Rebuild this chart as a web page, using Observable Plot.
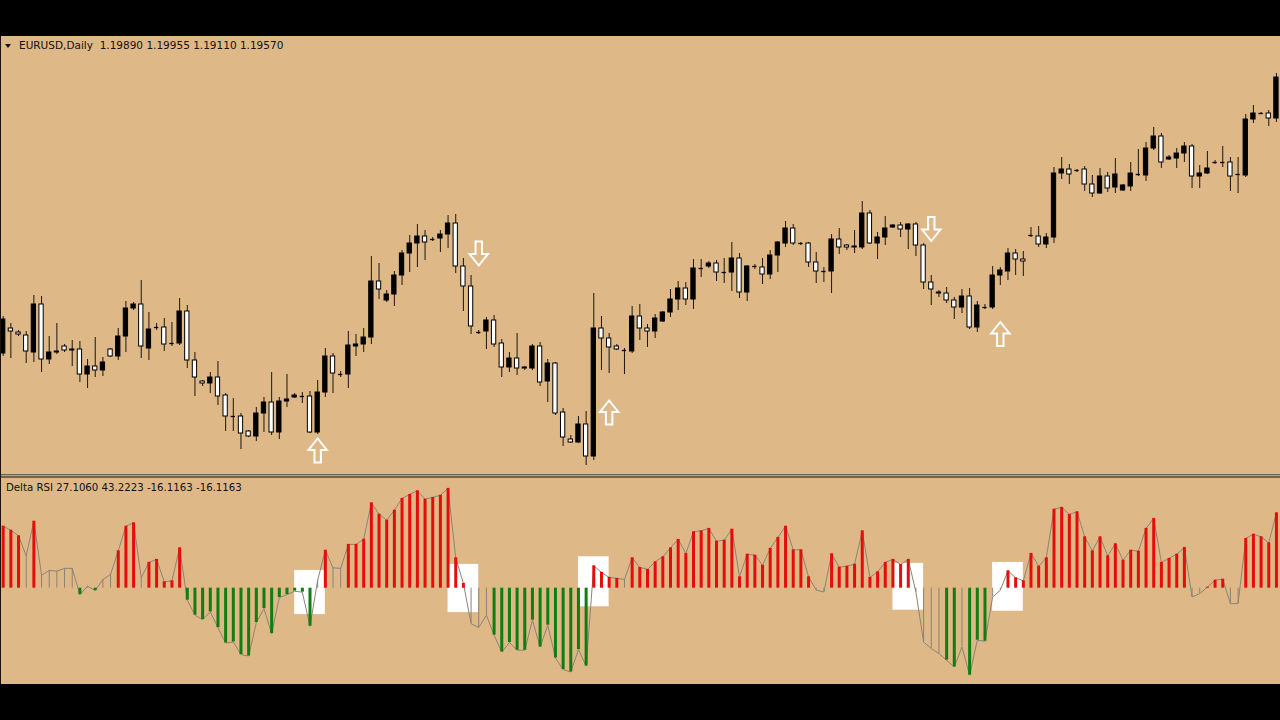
<!DOCTYPE html>
<html>
<head>
<meta charset="utf-8">
<script src="https://cdn.jsdelivr.net/npm/d3@7"></script>
<script src="https://cdn.jsdelivr.net/npm/@observablehq/plot@0.6"></script>
<style>
  html, body { margin: 0; padding: 0; background: #000; width: 1280px; height: 720px; overflow: hidden; }
  #chart { position: absolute; left: 0; top: 36px; width: 1280px; height: 648px; background: #DEB887; }
  #upper { position: absolute; left: 0; top: 0; }
  #lower { position: absolute; left: 0; top: 442px; }
  #sep { position: absolute; left: 0; top: 438px; width: 1280px; height: 4px;
         background: linear-gradient(#6d6452 0 1.3px, #b3a27f 1.3px 2.3px, #6d6452 2.3px 3.6px, #DEB887 3.6px); }
  #leftline { position: absolute; left: 0; top: 0; width: 1px; height: 648px; background: #1a140c; }
  .lbl { position: absolute; font-family: "DejaVu Sans", sans-serif; color: #111; white-space: pre; line-height: 12px; }
  #tri { position: absolute; left: 5px; top: 8px; width: 0; height: 0;
         border-left: 3px solid transparent; border-right: 3px solid transparent; border-top: 4.5px solid #111; }
  svg { display: block; }
</style>
</head>
<body>
<div id="chart">
  <div id="upper"></div>
  <div id="sep"></div>
  <div id="lower"></div>
  <div id="leftline"></div>
  <div id="tri"></div>
  <div class="lbl" id="title1" style="left:19px; top:3.4px; font-size:10.5px;"></div>
  <div class="lbl" id="title2" style="left:6px; top:445.8px; font-size:10.2px;"></div>
</div>
<script>
// ---------- Header texts ----------
const symbolTitle = "EURUSD,Daily  1.19890 1.19955 1.19110 1.19570";
const indicatorTitle = "Delta RSI 27.1060 43.2223 -16.1163 -16.1163";

// ---------- Daily candles ----------
const openPrice = [
1.1414,1.1464,1.1456,1.1450,1.1416,1.1512,1.1402,1.1416,1.1428,1.1420,
1.1422,1.1372,1.1388,1.1380,1.1422,1.1408,1.1448,1.1504,1.1512,1.1424,
1.1466,1.1466,1.1434,1.1434,1.1498,1.1400,1.1358,1.1354,1.1366,1.1330,
1.1288,1.1288,1.1258,1.1248,1.1294,1.1316,1.1256,1.1318,1.1326,1.1328,
1.1328,1.1256,1.1336,1.1408,1.1372,1.1372,1.1428,1.1432,1.1446,1.1558,
1.1520,1.1532,1.1570,1.1614,1.1634,1.1648,1.1642,1.1644,1.1652,1.1674,
1.1588,1.1548,1.1456,1.1458,1.1480,1.1434,1.1386,1.1404,1.1386,1.1384,
1.1428,1.1358,1.1394,1.1296,1.1242,1.1236,1.1272,1.1208,1.1464,1.1444,
1.1428,1.1420,1.1418,1.1488,1.1464,1.1458,1.1478,1.1496,1.1522,1.1544,
1.1522,1.1584,1.1588,1.1594,1.1576,1.1576,1.1604,1.1536,1.1588,1.1586,
1.1572,1.1610,1.1634,1.1664,1.1634,1.1634,1.1596,1.1578,1.1578,1.1642,
1.1630,1.1626,1.1626,1.1694,1.1634,1.1646,1.1666,1.1670,1.1662,1.1672,
1.1630,1.1556,1.1536,1.1534,1.1520,1.1506,1.1528,1.1466,1.1506,1.1506,
1.1570,1.1578,1.1614,1.1602,1.1650,1.1648,1.1632,1.1646,1.1774,1.1782,
1.1780,1.1782,1.1752,1.1734,1.1768,1.1746,1.1740,1.1748,1.1772,1.1770,
1.1824,1.1848,1.1802,1.1804,1.1814,1.1828,1.1768,1.1774,1.1796,1.1796,
1.1796,1.1772,1.1770,1.1882,1.1894,1.1894,1.1884];
const highPrice = [
1.1488,1.1474,1.1460,1.1458,1.1530,1.1528,1.1448,1.1474,1.1432,1.1440,
1.1438,1.1402,1.1446,1.1406,1.1424,1.1464,1.1518,1.1516,1.1560,1.1496,
1.1474,1.1484,1.1476,1.1524,1.1510,1.1416,1.1360,1.1376,1.1398,1.1334,
1.1324,1.1294,1.1260,1.1306,1.1326,1.1376,1.1326,1.1372,1.1334,1.1336,
1.1338,1.1360,1.1424,1.1414,1.1378,1.1458,1.1452,1.1464,1.1608,1.1594,
1.1540,1.1578,1.1620,1.1650,1.1672,1.1660,1.1646,1.1660,1.1690,1.1692,
1.1604,1.1570,1.1460,1.1486,1.1490,1.1442,1.1416,1.1454,1.1388,1.1432,
1.1436,1.1402,1.1396,1.1304,1.1250,1.1288,1.1298,1.1534,1.1488,1.1454,
1.1432,1.1424,1.1508,1.1512,1.1472,1.1492,1.1498,1.1542,1.1558,1.1556,
1.1602,1.1602,1.1598,1.1600,1.1604,1.1636,1.1614,1.1590,1.1592,1.1604,
1.1620,1.1638,1.1678,1.1672,1.1636,1.1636,1.1616,1.1586,1.1652,1.1664,
1.1632,1.1660,1.1718,1.1700,1.1656,1.1688,1.1672,1.1676,1.1674,1.1676,
1.1634,1.1570,1.1540,1.1546,1.1526,1.1542,1.1544,1.1518,1.1512,1.1588,
1.1586,1.1624,1.1622,1.1618,1.1666,1.1668,1.1654,1.1786,1.1806,1.1792,
1.1782,1.1788,1.1770,1.1784,1.1776,1.1804,1.1752,1.1796,1.1822,1.1836,
1.1866,1.1854,1.1810,1.1824,1.1836,1.1832,1.1790,1.1818,1.1800,1.1828,
1.1806,1.1806,1.1892,1.1910,1.1896,1.1900,1.1974];
const lowPrice = [
1.1408,1.1404,1.1448,1.1394,1.1396,1.1376,1.1392,1.1412,1.1416,1.1388,
1.1356,1.1344,1.1366,1.1368,1.1406,1.1400,1.1416,1.1500,1.1404,1.1400,
1.1460,1.1418,1.1428,1.1430,1.1384,1.1328,1.1348,1.1334,1.1310,1.1258,
1.1258,1.1222,1.1246,1.1238,1.1256,1.1250,1.1242,1.1306,1.1324,1.1314,
1.1254,1.1252,1.1326,1.1334,1.1366,1.1344,1.1408,1.1416,1.1432,1.1522,
1.1516,1.1508,1.1550,1.1576,1.1586,1.1600,1.1638,1.1616,1.1624,1.1574,
1.1498,1.1452,1.1452,1.1422,1.1426,1.1366,1.1376,1.1370,1.1380,1.1380,
1.1348,1.1316,1.1290,1.1228,1.1234,1.1234,1.1190,1.1200,1.1380,1.1374,
1.1420,1.1372,1.1414,1.1440,1.1426,1.1444,1.1476,1.1486,1.1500,1.1510,
1.1502,1.1566,1.1584,1.1558,1.1554,1.1538,1.1524,1.1518,1.1582,1.1552,
1.1562,1.1576,1.1626,1.1630,1.1630,1.1586,1.1554,1.1556,1.1534,1.1612,
1.1620,1.1614,1.1622,1.1632,1.1602,1.1630,1.1664,1.1646,1.1622,1.1608,
1.1542,1.1510,1.1526,1.1514,1.1482,1.1494,1.1462,1.1456,1.1502,1.1502,
1.1550,1.1560,1.1570,1.1568,1.1646,1.1626,1.1624,1.1634,1.1762,1.1752,
1.1776,1.1738,1.1726,1.1732,1.1736,1.1734,1.1738,1.1738,1.1768,1.1758,
1.1820,1.1784,1.1800,1.1784,1.1796,1.1744,1.1744,1.1772,1.1792,1.1786,
1.1738,1.1734,1.1766,1.1874,1.1892,1.1868,1.1876];
const closePrice = [
1.1482,1.1458,1.1452,1.1418,1.1512,1.1402,1.1416,1.1418,1.1420,1.1422,
1.1372,1.1388,1.1380,1.1396,1.1408,1.1448,1.1504,1.1512,1.1428,1.1462,
1.1466,1.1432,1.1434,1.1498,1.1400,1.1366,1.1354,1.1366,1.1328,1.1288,
1.1288,1.1254,1.1248,1.1294,1.1316,1.1256,1.1318,1.1322,1.1330,1.1328,
1.1256,1.1336,1.1408,1.1374,1.1372,1.1430,1.1432,1.1446,1.1558,1.1542,
1.1532,1.1570,1.1614,1.1634,1.1648,1.1636,1.1642,1.1652,1.1674,1.1588,
1.1548,1.1468,1.1456,1.1480,1.1432,1.1386,1.1404,1.1384,1.1384,1.1428,
1.1356,1.1394,1.1294,1.1246,1.1236,1.1272,1.1208,1.1464,1.1444,1.1426,
1.1422,1.1420,1.1488,1.1464,1.1458,1.1484,1.1496,1.1522,1.1544,1.1522,
1.1584,1.1584,1.1594,1.1576,1.1576,1.1604,1.1536,1.1588,1.1588,1.1572,
1.1610,1.1636,1.1664,1.1634,1.1634,1.1596,1.1578,1.1578,1.1642,1.1626,
1.1626,1.1628,1.1694,1.1634,1.1646,1.1664,1.1670,1.1662,1.1672,1.1630,
1.1556,1.1542,1.1534,1.1520,1.1506,1.1528,1.1466,1.1510,1.1506,1.1570,
1.1580,1.1614,1.1602,1.1598,1.1650,1.1632,1.1646,1.1774,1.1782,1.1772,
1.1780,1.1752,1.1734,1.1768,1.1744,1.1772,1.1750,1.1774,1.1772,1.1824,
1.1848,1.1796,1.1806,1.1814,1.1828,1.1768,1.1774,1.1784,1.1796,1.1796,
1.1768,1.1772,1.1882,1.1894,1.1894,1.1884,1.1966];

// ---------- Signal arrows on the price panel ----------
const upArrowBar = [41, 79, 130];
const upArrowPrice = [1.1246, 1.1322, 1.1479];
const downArrowBar = [62, 121];
const downArrowPrice = [1.1588, 1.1637];

// ---------- Delta RSI sub-window ----------
const deltaRsi = [
31.0,29.0,26.2,16.2,33.5,6.5,8.9,8.5,9.9,9.9,
-3.2,1.0,-1.2,4.4,6.9,18.7,31.0,32.7,5.2,12.9,
14.4,3.2,3.7,20.2,-6.0,-13.5,-15.7,-11.9,-19.7,-27.4,
-26.9,-33.2,-33.9,-17.2,-10.2,-22.7,-4.7,-3.2,-1.5,-2.0,
-19.0,4.0,19.0,10.2,9.9,21.9,21.9,24.5,42.7,37.0,
34.0,39.0,44.9,46.9,48.7,44.5,45.4,46.5,49.9,15.2,
2.4,-17.7,-19.7,-13.5,-23.5,-31.9,-27.2,-31.0,-31.0,-16.0,
-29.4,-18.5,-34.9,-40.7,-41.9,-30.7,-38.9,11.2,7.9,5.4,
4.9,4.4,15.2,10.4,9.4,13.2,15.7,20.2,24.4,17.4,
28.2,28.7,29.9,23.5,24.0,29.5,5.7,17.0,16.5,11.5,
19.9,25.4,31.0,19.2,19.2,5.7,-1.0,-1.9,17.2,10.5,
11.0,12.0,28.7,5.4,8.2,12.9,14.4,11.9,14.4,-2.0,
-26.9,-30.2,-32.7,-36.0,-39.4,-29.4,-43.5,-26.0,-26.5,-4.4,
-1.0,8.7,5.2,3.7,17.4,11.0,15.2,39.5,40.4,36.9,
38.2,25.7,18.7,25.7,16.2,22.2,14.0,19.0,18.5,29.9,
34.9,12.9,14.9,17.0,20.4,-4.4,-2.7,0.5,4.0,4.5,
-7.7,-7.7,24.9,27.0,25.7,22.7,37.7];
// r = rising (red), g = falling (green), n = neutral (grey)
const rsiState = (
"rrrnrnnnnn" + "gngnnrrrnr" + "rrrrgggggg" + "gggggggggg" + "gnrnnrrrrr" +
"rrrrrrrrrr" + "rnnngggggg" + "gggggggrrr" + "rnrrrrrrrr" + "rrrrrrrrrr" +
"rrrrrrnnrr" + "rrrrrrrrrn" + "nnnggnggg n".replace(" ", "") + "nrrrrrrrrr" + "rrrrrrrrrr" +
"rrrrrnnrrr" + "nnrrrrr").split("");
const boxCenter = [40, 60, 77, 118, 131];
const boxHigh = [8.9, 11.9, 15.7, 12.4, 12.9];
const boxLow = [-13.2, -12.2, -9.3, -11.0, -11.5];

// ---------- Build tables ----------
const candles = openPrice.map((o, i) => ({i, open: o, high: highPrice[i], low: lowPrice[i], close: closePrice[i]}));
const dojis = candles.filter(d => d.open === d.close);
const ups = upArrowBar.map((b, k) => ({i: b, price: upArrowPrice[k]}));
const downs = downArrowBar.map((b, k) => ({i: b, price: downArrowPrice[k]}));
const rsi = deltaRsi.map((v, i) => ({i, v, s: rsiState[i]}));
const boxes = boxCenter.map((c, k) => ({c, hi: boxHigh[k], lo: boxLow[k]}));
const stateColor = {r: "#e50d0a", g: "#0f7d0f", n: "#8a8378"};

const xDomain = [-0.352, 166.53];
const halfBody = 0.28;

const upSym = {draw(ctx) {
  ctx.moveTo(0, 1); ctx.lineTo(9.2, 12.5); ctx.lineTo(3.2, 12.5); ctx.lineTo(3.2, 25);
  ctx.lineTo(-3.2, 25); ctx.lineTo(-3.2, 12.5); ctx.lineTo(-9.2, 12.5); ctx.closePath();
}};
const downSym = {draw(ctx) {
  ctx.moveTo(0, -1); ctx.lineTo(9.2, -12.5); ctx.lineTo(3.2, -12.5); ctx.lineTo(3.2, -25);
  ctx.lineTo(-3.2, -25); ctx.lineTo(-3.2, -12.5); ctx.lineTo(-9.2, -12.5); ctx.closePath();
}};

const upper = Plot.plot({
  width: 1280, height: 438, margin: 0,
  x: {domain: xDomain, axis: null},
  y: {domain: [1.1172, 1.2048], axis: null},
  color: {type: "identity"},
  style: {background: "transparent", overflow: "visible"},
  marks: [
    Plot.ruleX(candles, {x: "i", y1: "low", y2: "high", stroke: "#1c1710", strokeWidth: 1}),
    Plot.rect(candles, {x1: d => d.i - halfBody, x2: d => d.i + halfBody, y1: "open", y2: "close",
      fill: d => d.close > d.open ? "#000" : "#fff", stroke: "#000", strokeWidth: 1}),
    Plot.ruleY(dojis, {y: "open", x1: d => d.i - halfBody, x2: d => d.i + halfBody, stroke: "#000", strokeWidth: 1.3}),
    Plot.dot(ups, {x: "i", y: "price", symbol: upSym, r: 10, stroke: "#fff", strokeWidth: 2, fill: "none"}),
    Plot.dot(downs, {x: "i", y: "price", symbol: downSym, r: 10, stroke: "#fff", strokeWidth: 2, fill: "none"})
  ]
});
document.getElementById("upper").appendChild(upper);

const lower = Plot.plot({
  width: 1280, height: 206, margin: 0,
  x: {domain: xDomain, axis: null},
  y: {domain: [-48.15, 54.85], axis: null},
  color: {type: "identity"},
  style: {background: "transparent", overflow: "visible"},
  marks: [
    Plot.rect(boxes, {x1: d => d.c - 2, x2: d => d.c + 2, y1: "lo", y2: "hi", fill: "#fff"}),
    Plot.line(rsi, {x: "i", y: "v", stroke: "#8c8478", strokeWidth: 1}),
    Plot.ruleX(rsi.filter(d => d.s === "n"), {x: "i", y1: 0, y2: "v", stroke: stateColor.n, strokeWidth: 1}),
    Plot.ruleX(rsi.filter(d => d.s !== "n"), {x: "i", y1: 0, y2: "v", stroke: d => stateColor[d.s], strokeWidth: 3})
  ]
});
document.getElementById("lower").appendChild(lower);

document.getElementById("title1").textContent = symbolTitle;
document.getElementById("title2").textContent = indicatorTitle;
</script>
</body>
</html>
